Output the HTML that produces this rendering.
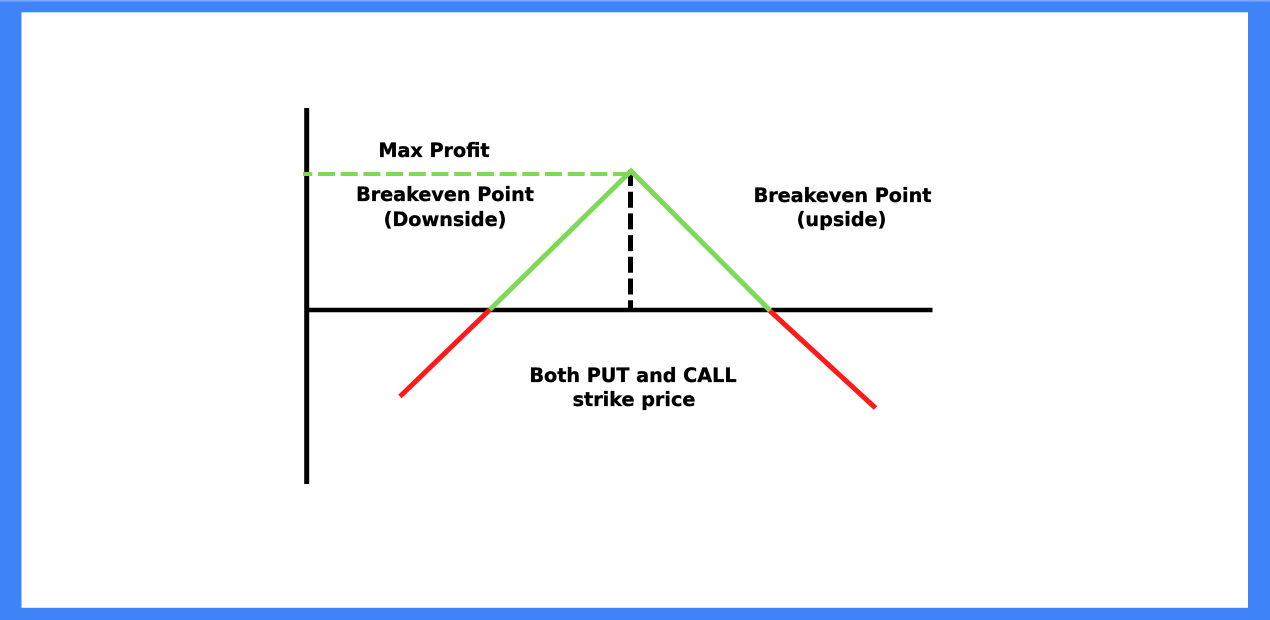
<!DOCTYPE html>
<html>
<head>
<meta charset="utf-8">
<style>
  html,body{margin:0;padding:0;background:#3f83f8;}
  body{width:1270px;height:620px;overflow:hidden;position:relative;}
  svg{position:absolute;left:0;top:0;}
  text{font-family:"DejaVu Sans","Liberation Sans",sans-serif;font-weight:bold;font-size:19.2px;fill:#000;stroke:#000;stroke-width:0.35px;}
</style>
</head>
<body>
<svg width="1270" height="620" viewBox="0 0 1270 620" xmlns="http://www.w3.org/2000/svg">
  <rect x="0" y="0" width="1270" height="620" fill="#3f83f8"/>
  <rect x="0" y="0" width="1270" height="1.5" fill="#7aa8f8"/>
  <rect x="21.5" y="12.3" width="1226.5" height="595.5" fill="#ffffff"/>

  <!-- axes -->
  <line x1="306.7" y1="108" x2="306.7" y2="484" stroke="#000" stroke-width="5"/>
  <line x1="306" y1="310" x2="932.5" y2="310" stroke="#000" stroke-width="4.5"/>

  <!-- green dashed max profit -->
  <line x1="303" y1="174" x2="626" y2="174" stroke="#7ed957" stroke-width="4" stroke-dasharray="17 5.7" stroke-dashoffset="7.7"/>

  <!-- black dashed vertical -->
  <line x1="630.5" y1="170" x2="630.5" y2="308" stroke="#000" stroke-width="5" stroke-dasharray="16 5.7"/>

  <!-- red segments -->
  <line x1="400" y1="396.5" x2="490" y2="309.5" stroke="#ff1a1a" stroke-width="5"/>
  <line x1="769" y1="310" x2="875.5" y2="408" stroke="#ff1a1a" stroke-width="5"/>

  <!-- green payoff -->
  <polyline points="490,309.5 631,171 770,310.5" fill="none" stroke="#7ed957" stroke-width="5" stroke-linejoin="miter"/>

  <!-- labels -->
  <text x="434" y="157" text-anchor="middle">Max Profit</text>
  <text x="445" y="201" text-anchor="middle">Breakeven Point</text>
  <text x="445" y="226" text-anchor="middle">(Downside)</text>
  <text x="842.5" y="202" text-anchor="middle">Breakeven Point</text>
  <text x="841.5" y="226" text-anchor="middle">(upside)</text>
  <text x="633" y="382" text-anchor="middle">Both PUT and CALL</text>
  <text x="634" y="406" text-anchor="middle">strike price</text>
</svg>
</body>
</html>
